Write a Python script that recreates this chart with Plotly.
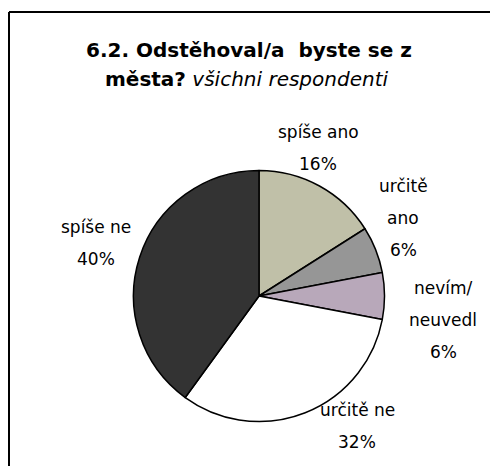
import plotly.graph_objects as go

# data
labels = ["spíše ano", "určitě ano", "nevím/neuvedl", "určitě ne", "spíše ne"]
values = [16, 6, 6, 32, 40]
colors = ["#C0C0A8", "#969696", "#B8A8BA", "#FFFFFF", "#333333"]

# label lines as they are wrapped on the chart
label_lines = [["spíše ano"], ["určitě", "ano"], ["nevím/", "neuvedl"],
               ["určitě ne"], ["spíše ne"]]

W, H = 490, 466
FONT = "DejaVu Sans"

# pie placement in pixels
cx, cy, r = 259, 296, 125.5

fig = go.Figure()
fig.add_trace(go.Pie(
    labels=labels, values=values, sort=False, direction="clockwise",
    rotation=0, textinfo="none", hoverinfo="label+percent",
    marker=dict(colors=colors, line=dict(color="black", width=1.5)),
    domain=dict(x=[(cx - r) / W, (cx + r) / W],
                y=[1 - (cy + r) / H, 1 - (cy - r) / H]),
    showlegend=False,
))

# label anchor positions (x center, y of first line) in px
label_pos = [(318, 132), (403, 186), (443, 288), (357, 410), (96, 227)]
LINE = 32

total = sum(values)
annotations = []
for lines, v, (x, y) in zip(label_lines, values, label_pos):
    rows = lines + ["%d%%" % round(100 * v / total)]
    for i, t in enumerate(rows):
        annotations.append(dict(
            x=x / W, y=1 - (y + i * LINE) / H, xref="paper", yref="paper",
            text=t, showarrow=False, xanchor="center", yanchor="middle",
            font=dict(family=FONT, size=17, color="black")))

# title, two lines
annotations.append(dict(x=249 / W, y=1 - 50 / H, xref="paper", yref="paper",
                        text="<b>6.2. Odstěhoval/a  byste se z</b>", showarrow=False,
                        xanchor="center", yanchor="middle",
                        font=dict(family=FONT, size=20, color="black")))
annotations.append(dict(x=246 / W, y=1 - 79 / H, xref="paper", yref="paper",
                        text="<b>města?</b> <i>všichni respondenti</i>", showarrow=False,
                        xanchor="center", yanchor="middle",
                        font=dict(family=FONT, size=20, color="black")))

# frame (only top and left edges fall inside the picture)
shapes = [
    dict(type="line", xref="paper", yref="paper", x0=9 / W, x1=1.01,
         y0=1 - 12 / H, y1=1 - 12 / H, line=dict(color="black", width=2)),
    dict(type="line", xref="paper", yref="paper", x0=9 / W, x1=9 / W,
         y0=1 - 12 / H, y1=-0.01, line=dict(color="black", width=2)),
]

fig.update_layout(width=W, height=H, margin=dict(l=0, r=0, t=0, b=0),
                  paper_bgcolor="white", plot_bgcolor="white",
                  annotations=annotations, shapes=shapes)

fig.write_html("out.html", config={"displayModeBar": False},
               post_script="document.body.style.margin='0px';")
